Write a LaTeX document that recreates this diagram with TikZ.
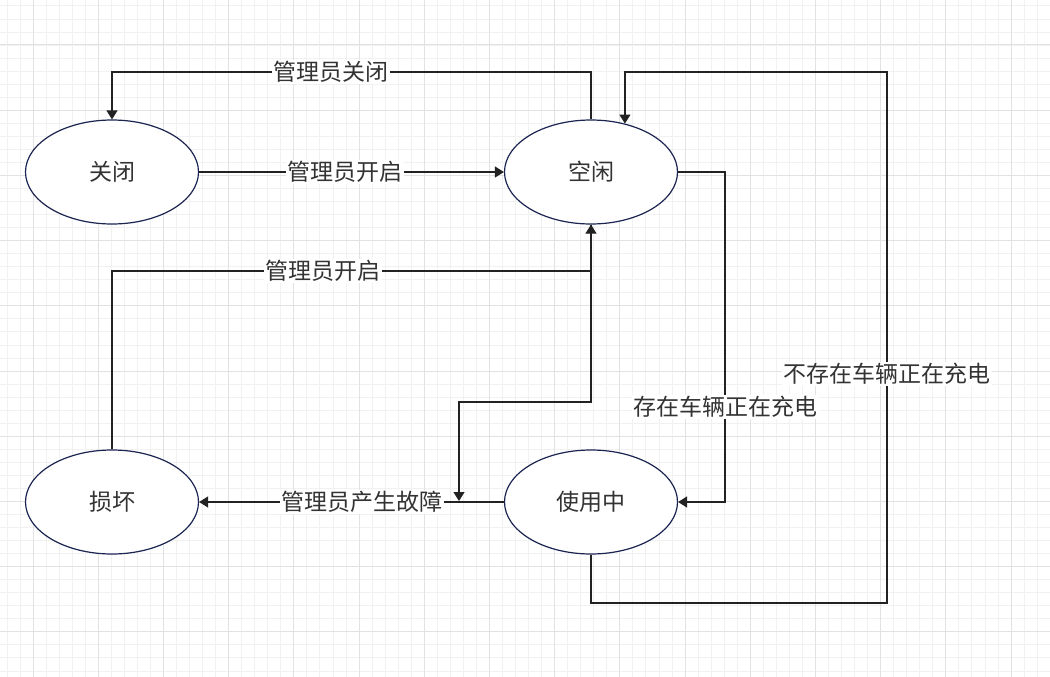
\documentclass[tikz,border=0pt]{standalone}
\usepackage{fontspec}
\setmainfont{Noto Sans CJK SC}
\usetikzlibrary{shapes.geometric,arrows.meta}
\definecolor{gridminor}{HTML}{F1F1F1}
\definecolor{gridmajor}{HTML}{E2E2E2}
\definecolor{txt}{HTML}{333333}
\definecolor{rim}{HTML}{1C2452}
\definecolor{wire}{HTML}{222222}
\tikzset{
  state/.style={ellipse, draw=rim, line width=1.2pt, fill=white, minimum width=173pt, minimum height=104pt, inner sep=0pt, text=txt, font=\fontsize{23}{27}\selectfont},
  conn/.style={draw=wire, line width=1.2pt, -{Triangle[length=9pt,width=11pt]}},
  lab/.style={fill=white, inner sep=1.5pt, text=txt, font=\fontsize{23}{27}\selectfont},
  minorln/.style={draw=gridminor, line width=0.8pt},
  majorln/.style={draw=gridmajor, line width=1pt}
}
\begin{document}
\begin{tikzpicture}[x=1pt,y=-1pt]
\useasboundingbox (0,0) rectangle (1050,677);
\fill[white] (0,0) rectangle (1050,677);
% grid
\foreach \i in {0,...,81} {\draw[minorln] ({6.92+13.04*\i},0) -- ({6.92+13.04*\i},677);}
\foreach \i in {0,...,52} {\draw[minorln] (0,{5.88+13.04*\i}) -- (1050,{5.88+13.04*\i});}
\foreach \i in {0,...,16} {\draw[majorln] ({33+65.2*\i},0) -- ({33+65.2*\i},677);}
\foreach \i in {0,...,10} {\draw[majorln] (0,{45+65.2*\i}) -- (1050,{45+65.2*\i});}
% states
\node[state] (guanbi) at (112,172) {关闭};
\node[state] (kongxian) at (591,172) {空闲};
\node[state] (sunhuai) at (112,502) {损坏};
\node[state] (shiyong) at (591,502) {使用中};
\coordinate (fault) at (459,501);
% connectors
\draw[conn] (kongxian.north) -- (591,72) -| node[lab,pos=0.271]{管理员关闭} (guanbi.north);
\draw[conn] (guanbi.east) -- node[lab,pos=0.479]{管理员开启} (kongxian.west);
\draw[conn] (sunhuai.north) -- (112,271) -- node[lab,pos=0.44]{管理员开启} (591,271) -- (kongxian.south);
\draw[conn] (kongxian.south) -- (591,402) -- (459,402) -- (fault);
\draw[conn] (kongxian.east) -- (725,172) -- node[lab,pos=0.712]{存在车辆正在充电} (725,502) -- (shiyong.east);
\draw[conn] (shiyong.south) -- (591,603) -- (887,603) -- node[lab,pos=0.431]{不存在车辆正在充电} (887,72) -| (kongxian.55.5);
\draw[conn] (shiyong.west) -- node[lab,pos=0.465]{管理员产生故障} (sunhuai.east);
\end{tikzpicture}
\end{document}
